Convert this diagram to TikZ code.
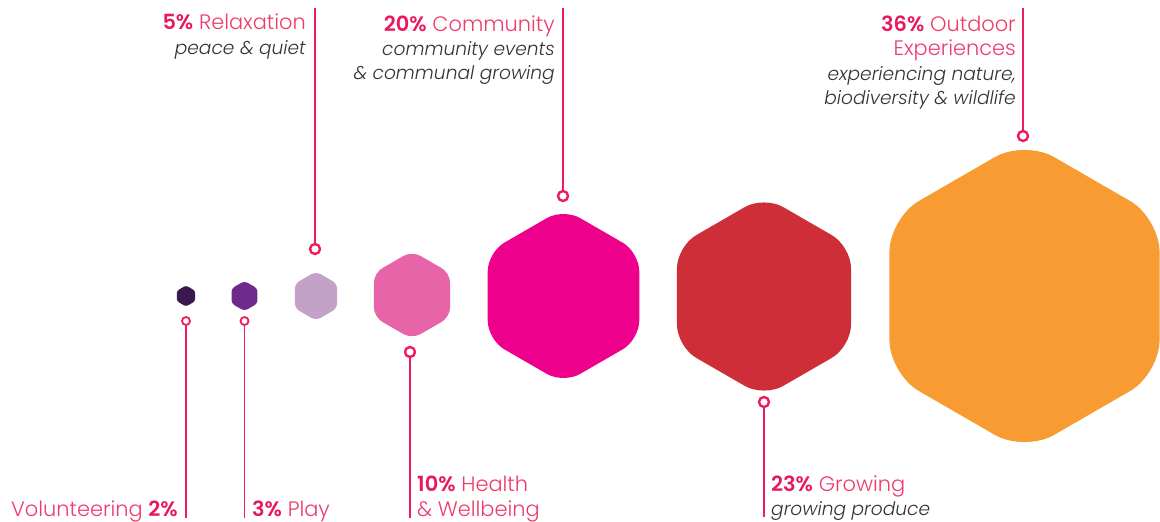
\documentclass[tikz,border=0pt]{standalone}
\usepackage{fontspec}
\setmainfont{Poppins Light}[BoldFont={Poppins SemiBold},ItalicFont={Poppins Light Italic}]
\usetikzlibrary{shapes.geometric}
\definecolor{pinkline}{HTML}{EC1D5A}
\definecolor{pinktext}{HTML}{EE3A6C}
\definecolor{pinkbold}{HTML}{E8195A}
\definecolor{graytext}{HTML}{333333}
\definecolor{cVol}{HTML}{3A1A4E}
\definecolor{cPlay}{HTML}{6F2A8C}
\definecolor{cRel}{HTML}{C4A1C6}
\definecolor{cHea}{HTML}{E764A8}
\definecolor{cCom}{HTML}{EC008C}
\definecolor{cGro}{HTML}{CD2E38}
\definecolor{cOut}{HTML}{F99B33}
\tikzset{
  hexa/.style={regular polygon, regular polygon sides=6, shape border rotate=30, draw=none, inner sep=0pt, outer sep=0pt},
  pinbig/.style={circle, draw=pinkline, fill=white, line width=2.4pt, minimum size=10pt, inner sep=0pt},
  pinsmall/.style={circle, draw=pinkline, fill=white, line width=1.8pt, minimum size=8pt, inner sep=0pt},
  leader/.style={draw=pinkline, line width=2.4pt},
  leadersmall/.style={draw=pinkline, line width=1.8pt},
  title/.style={inner sep=0pt, text=pinktext, font=\fontsize{20.9}{24}\selectfont},
  sub/.style={inner sep=0pt, text=graytext, font=\fontsize{18.6}{20}\selectfont\itshape},
}
\newcommand{\pct}[1]{\textbf{\color{pinkbold}#1}}
\begin{document}
\begin{tikzpicture}[x=1pt,y=-1pt]
\useasboundingbox (0,0) rectangle (1160,522);
% hexagons
\node[hexa, fill=cVol, minimum size=21pt, rounded corners=2.3pt] (hVol) at (186,296) {};
\node[hexa, fill=cPlay, minimum size=30pt, rounded corners=3.3pt] (hPlay) at (244.5,296) {};
\node[hexa, fill=cRel, minimum size=49pt, rounded corners=5.4pt] (hRel) at (316,296) {};
\node[hexa, fill=cHea, minimum size=88pt, rounded corners=9.7pt] (hHea) at (412,295) {};
\node[hexa, fill=cCom, minimum size=175pt, rounded corners=19pt] (hCom) at (563.5,296) {};
\node[hexa, fill=cGro, minimum size=201pt, rounded corners=22pt] (hGro) at (764,296.5) {};
\node[hexa, fill=cOut, minimum size=312pt, rounded corners=34pt] (hOut) at (1024.5,296) {};
% pins
\node[pinsmall] (pVol) at (186,321) {};
\node[pinsmall] (pPlay) at (244.5,321) {};
\node[pinbig] (pRel) at (315,249) {};
\node[pinbig] (pHea) at (410,352) {};
\node[pinbig] (pCom) at (563,196) {};
\node[pinbig] (pGro) at (764,402) {};
\node[pinbig] (pOut) at (1023,136) {};
% leader ends
\coordinate (eVol) at (186,518);
\coordinate (ePlay) at (244.5,518);
\coordinate (eRel) at (315,8);
\coordinate (eHea) at (410,518);
\coordinate (eCom) at (563,8);
\coordinate (eGro) at (764,517);
\coordinate (eOut) at (1023,8);
\draw[leadersmall] (pVol) -- (eVol);
\draw[leadersmall] (pPlay) -- (ePlay);
\draw[leader] (pRel) -- (eRel);
\draw[leader] (pHea) -- (eHea);
\draw[leader] (pCom) -- (eCom);
\draw[leader] (pGro) -- (eGro);
\draw[leader] (pOut) -- (eOut);
% labels
\node[title, anchor=base east] (tRel) at (306,30) {\pct{5\%} Relaxation};
\node[sub, anchor=base east] (sRel) at (306,54) {peace \& quiet};
\node[title, anchor=base east] (tCom) at (555,31) {\pct{20\%} Community};
\node[sub, anchor=base east] (sCom1) at (555,55) {community events};
\node[sub, anchor=base east] (sCom2) at (555,79) {\& communal growing};
\node[title, anchor=base east] (tOut1) at (1016,31) {\pct{36\%} Outdoor};
\node[title, anchor=base east] (tOut2) at (1016,55) {Experiences};
\node[sub, anchor=base east] (sOut1) at (1016,80) {experiencing nature,};
\node[sub, anchor=base east] (sOut2) at (1016,104) {biodiversity \& wildlife};
\node[title, anchor=base east] (tVol) at (178,516) {Volunteering \pct{2\%}};
\node[title, anchor=base west] (tPlay) at (252,516) {\pct{3\%} Play};
\node[title, anchor=base west] (tHea1) at (417,491) {\pct{10\%} Health};
\node[title, anchor=base west] (tHea2) at (417,516) {\& Wellbeing};
\node[title, anchor=base west] (tGro) at (771,491) {\pct{23\%} Growing};
\node[sub, anchor=base west] (sGro) at (771,515) {growing produce};
\end{tikzpicture}
\end{document}
